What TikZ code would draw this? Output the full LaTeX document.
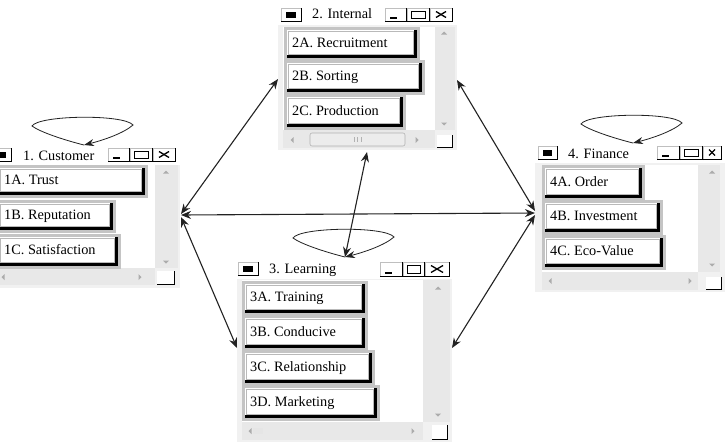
\documentclass[tikz,border=0pt]{standalone}
\usepackage{fontspec}
\setmainfont{Liberation Serif}
\usetikzlibrary{arrows.meta}
\definecolor{winbg}{HTML}{F1F1F1}
\definecolor{trackbg}{HTML}{E8E8E8}
\definecolor{framegray}{HTML}{C4C4C4}
\definecolor{linecol}{HTML}{222222}
\tikzset{
  btntext/.style={anchor=base west,inner sep=0pt,font=\fontsize{14.3}{16}\selectfont,text=black},
  titletext/.style={anchor=base west,inner sep=0pt,font=\fontsize{14.3}{16}\selectfont,text=black},
  link/.style={{Stealth[length=10pt,width=8pt]}-{Stealth[length=10pt,width=8pt]},line width=1.1pt,draw=linecol},
  loopline/.style={-{Stealth[length=10pt,width=7pt]},line width=0.8pt,draw=linecol},
  tri/.style={fill=gray!65}
}
% list button: x1 y1 x2 y2 name text
\newcommand{\listbtn}[6]{%
  \fill[framegray] (#1-3,#2-3) rectangle (#3+3,#4+3);
  \fill[black] (#1,#2) rectangle (#3,#4);
  \fill[white] (#1,#2) rectangle (#3-3.5,#4-3.5);
  \draw[gray!55,line width=0.6pt] (#1+1,#4-4) -- (#1+1,#2+1) -- (#3-4,#2+1) -- (#3-4,#4-4) -- cycle;
  \node[btntext] (#5) at ({#1+5},{(#2+#4)/2+3}) {#6};
}
% caption buttons
\newcommand{\capbtn}[4]{%
  \fill[white] (#1,#2) rectangle (#3,#4);
  \draw[gray!50,line width=0.5pt] (#1+0.3,#4) -- (#1+0.3,#2+0.3) -- (#3,#2+0.3);
  \draw[black,line width=1.5pt] (#3-0.75,#2) -- (#3-0.75,#4-0.75) -- (#1,#4-0.75);
}
\newcommand{\capset}[6]{%
  \capbtn{#1}{#5}{#2}{#6}\capbtn{#2}{#5}{#3}{#6}\capbtn{#3}{#5}{#4}{#6}
  \draw[black,line width=1.6pt] (#1+5,#6-4) -- (#1+12,#6-4);
  \draw[black,line width=0.9pt] (#2+4,#5+3.5) rectangle (#3-5,#6-4);
  \draw[black,line width=1.4pt] (#2+4,#5+3.5) -- (#3-5,#5+3.5);
  \draw[black,line width=1.3pt] (#3+6,#5+3.5) -- (#4-7,#6-4.5);
  \draw[black,line width=1.3pt] (#3+6,#6-4.5) -- (#4-7,#5+3.5);
}
% window icon
\newcommand{\winicon}[4]{%
  \fill[white] (#1,#2) rectangle (#3,#4);
  \draw[gray!50,line width=0.5pt] (#1,#4) -- (#1,#2) -- (#3,#2);
  \draw[black,line width=1.5pt] (#3-0.75,#2) -- (#3-0.75,#4-0.75) -- (#1,#4-0.75);
  \fill[black] (#1+5,#2+4) rectangle (#3-6,#4-4);
}
% size grip
\newcommand{\sizegrip}[4]{%
  \fill[white] (#1,#2) rectangle (#3,#4);
  \draw[black,line width=1.3pt] (#3-0.6,#2) -- (#3-0.6,#4-0.6) -- (#1,#4-0.6);
}
\newcommand{\uptri}[2]{\fill[tri] (#1-3,#2+1.5) -- (#1+3,#2+1.5) -- (#1,#2-1.5) -- cycle;}
\newcommand{\dntri}[2]{\fill[tri] (#1-3,#2-1.5) -- (#1+3,#2-1.5) -- (#1,#2+1.5) -- cycle;}
\newcommand{\lftri}[2]{\fill[tri] (#1+1.5,#2-3) -- (#1+1.5,#2+3) -- (#1-1.5,#2) -- cycle;}
\newcommand{\rttri}[2]{\fill[tri] (#1-1.5,#2-3) -- (#1-1.5,#2+3) -- (#1+1.5,#2) -- cycle;}

\begin{document}
\begin{tikzpicture}[x=1pt,y=-1pt]
\useasboundingbox (0,0) rectangle (725,442);
\fill[white] (0,0) rectangle (725,442);
\clip (0,0) rectangle (725,442);

% ---------------- Window 1: Customer
\fill[winbg] (-20,145) rectangle (180,288);
\fill[white] (-20,145) rectangle (180,165);
\winicon{-8}{148}{12}{162}
\node[titletext] (t1) at (23,160) {1. Customer};
\capset{108}{130}{153}{176}{148}{162}
\fill[white] (-20,165) rectangle (155,268);
\fill[trackbg] (155,165) rectangle (178,268);
\fill[trackbg] (-20,268) rectangle (155,285);
\uptri{166}{172}\dntri{166}{262}\lftri{3}{277}\rttri{140}{277}
\sizegrip{157}{271}{175}{285}
\listbtn{-1}{168}{145}{195}{b1a}{1A. Trust}
\listbtn{-1}{203}{113}{230}{b1b}{1B. Reputation}
\listbtn{-1}{237}{118}{266}{b1c}{1C. Satisfaction}

% ---------------- Window 2: Internal
\fill[winbg] (278,5) rectangle (457,150);
\fill[white] (278,5) rectangle (457,25);
\winicon{281}{8}{302}{22}
\node[titletext] (t2) at (312,18) {2. Internal};
\capset{385}{407}{430}{453}{8}{22}
\fill[white] (283,27) rectangle (435,130);
\fill[trackbg] (435,27) rectangle (455,130);
\fill[trackbg] (283,130) rectangle (435,148);
\uptri{444}{33}\dntri{444}{124}\lftri{292}{140}\rttri{417}{140}
\draw[gray!60,fill=gray!15,rounded corners=2pt,line width=0.6pt] (310,133) rectangle (405,146);
\foreach \xx in {354,357.5,361}{\draw[gray!60,line width=0.6pt] (\xx,137) -- (\xx,142);}
\sizegrip{437}{135}{453}{148}
\listbtn{287}{30}{417}{58}{b2a}{2A. Recruitment}
\listbtn{287}{63}{422}{92}{b2b}{2B. Sorting}
\listbtn{287}{97}{403}{127}{b2c}{2C. Production}

% ---------------- Window 3: Learning
\fill[winbg] (237,258) rectangle (452,442);
\fill[white] (237,258) rectangle (452,279);
\winicon{238}{262}{259}{276}
\node[titletext] (t3) at (269,273) {3. Learning};
\capset{380}{403}{425}{450}{262}{277}
\fill[white] (242,280) rectangle (423,422);
\fill[trackbg] (423,280) rectangle (450,422);
\fill[trackbg] (242,422) rectangle (423,440);
\uptri{438}{288}\dntri{438}{415}\lftri{250}{431}\rttri{413}{431}
\fill[gray!20] (253,428) rectangle (263,434);
\sizegrip{432}{425}{448}{440}
\listbtn{245}{284}{365}{313}{b3a}{3A. Training}
\listbtn{245}{318}{365}{348}{b3b}{3B. Conducive}
\listbtn{245}{353}{372}{383}{b3c}{3C. Relationship}
\listbtn{245}{388}{377}{418}{b3d}{3D. Marketing}

% ---------------- Window 4: Finance
\fill[winbg] (535,143) rectangle (725,292);
\fill[white] (535,143) rectangle (725,163);
\winicon{538}{146}{558}{160}
\node[titletext] (t4) at (568,158) {4. Finance};
\capset{657}{680}{703}{722}{146}{160}
\fill[white] (542,165) rectangle (698,272);
\fill[trackbg] (698,165) rectangle (720,272);
\fill[trackbg] (542,272) rectangle (698,290);
\uptri{712}{172}\dntri{712}{265}\lftri{550}{281}\rttri{690}{281}
\sizegrip{706}{277}{722}{290}
\listbtn{545}{168}{642}{198}{b4a}{4A. Order}
\listbtn{545}{203}{660}{232}{b4b}{4B. Investment}
\listbtn{545}{238}{663}{267}{b4c}{4C. Eco-Value}

% ---------------- connector ends
\coordinate (cusR1) at (181,214);
\coordinate (cusR2) at (181,215);
\coordinate (cusR3) at (181,217);
\coordinate (intL) at (278,79);
\coordinate (intR) at (457,80);
\coordinate (intB) at (367,152);
\coordinate (finL1) at (535,213);
\coordinate (finL2) at (535,211);
\coordinate (finL3) at (535,215);
\coordinate (lrnL) at (237,348);
\coordinate (lrnR) at (452,348);
\coordinate (lrnT) at (345,257);

\draw[link] (cusR1) -- (intL);
\draw[link] (cusR2) -- (finL1);
\draw[link] (cusR3) -- (lrnL);
\draw[link] (intR) -- (finL2);
\draw[link] (finL3) -- (lrnR);
\draw[link] (intB) -- (lrnT);

% ---------------- self loops
\foreach \px/\py in {84/145, 345/257, 633/143}{
  \begin{scope}[shift={(\px,\py)}]
    \draw[loopline] (0,0) .. controls (-20,-5) and (-44,-13) .. (-52,-19)
      .. controls (-45,-30) and (40,-31) .. (49,-20)
      .. controls (40,-12) and (20,-5) .. (0,0);
  \end{scope}
}
\end{tikzpicture}
\end{document}
